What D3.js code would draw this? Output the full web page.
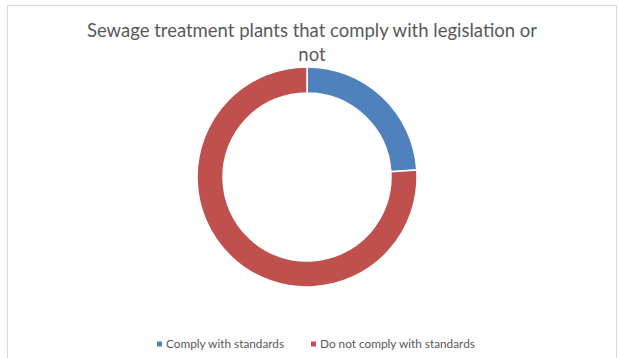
<!DOCTYPE html>
<html>
<head>
<meta charset="utf-8">
<script src="https://cdn.jsdelivr.net/npm/d3@7"></script>
<style>
  html, body { margin: 0; padding: 0; background: #fff; }
  svg { display: block; }
</style>
</head>
<body>
<svg id="chart" width="619" height="358"></svg>
<script>
// Share of sewage treatment plants by compliance status
const categories = ["Comply with standards", "Do not comply with standards"];
const values = [24, 76];
const colors = ["#4F81BD", "#C0504D"];
const titleLines = ["Sewage treatment plants that comply with legislation or", "not"];

const svg = d3.select("#chart");
const font = "Lato, 'Open Sans', sans-serif";

// chart area frame
svg.append("rect")
  .attr("x", 7.5).attr("y", 5.5)
  .attr("width", 609).attr("height", 370)
  .attr("fill", "#fff")
  .attr("stroke", "#d9d9d9").attr("stroke-width", 1);

// title
svg.append("g").selectAll("text")
  .data(titleLines)
  .join("text")
  .attr("x", 312)
  .attr("y", (d, i) => 37 + i * 23.5)
  .attr("text-anchor", "middle")
  .attr("font-family", font)
  .attr("font-size", 18.5)
  .attr("fill", "#595959")
  .text(d => d);

// donut
const cx = 307, cy = 177, rOuter = 110, rInner = 84;
const pie = d3.pie().sort(null).value(d => d)(values);
const arc = d3.arc().innerRadius(rInner).outerRadius(rOuter);
const color = d3.scaleOrdinal().domain(categories).range(colors);

svg.append("g")
  .attr("transform", `translate(${cx},${cy})`)
  .selectAll("path")
  .data(pie)
  .join("path")
  .attr("d", arc)
  .attr("fill", (d, i) => color(categories[i]))
  .attr("stroke", "#fff")
  .attr("stroke-width", 1.5);

// legend
const legendX = [157, 311];
const legend = svg.append("g").selectAll("g")
  .data(categories)
  .join("g")
  .attr("transform", (d, i) => `translate(${legendX[i]},344)`);
legend.append("rect")
  .attr("x", 0).attr("y", -2.5)
  .attr("width", 5).attr("height", 5)
  .attr("fill", d => color(d));
legend.append("text")
  .attr("x", 9).attr("y", 4)
  .attr("font-family", font)
  .attr("font-size", 11.8)
  .attr("fill", "#595959")
  .text(d => d);
</script>
</body>
</html>
